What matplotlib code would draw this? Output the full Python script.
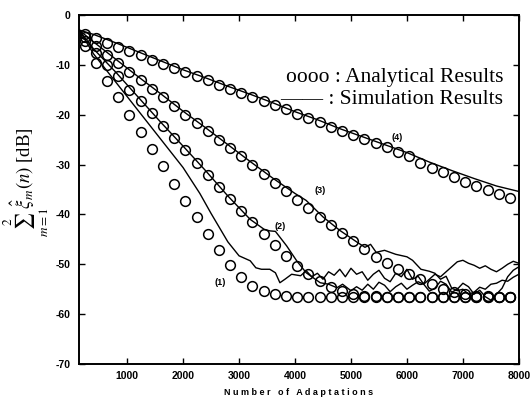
import numpy as np
import matplotlib
matplotlib.use("Agg")
import matplotlib.pyplot as plt

plt.rcParams['mathtext.fontset'] = 'stix'
plt.rcParams['font.family'] = ['Liberation Sans', 'DejaVu Sans']
plt.rcParams['axes.unicode_minus'] = False

# analytical results (circles), sampled every 200 adaptations
x_ana = np.arange(240, 8000, 200)
ana1 = [-6.3, -9.7, -13.3, -16.5, -20.1, -23.5, -26.9, -30.3, -33.9, -37.3,
        -40.5, -44.0, -47.1, -50.2, -52.6, -54.4, -55.3, -56.0, -56.3, -56.5,
        -56.5, -56.5, -56.5, -56.5, -56.5, -56.5, -56.5, -56.5, -56.5, -56.5,
        -56.5, -56.5, -56.5, -56.5, -56.5, -56.5, -56.5, -56.5, -56.5]
ana2 = [-5.3, -7.7, -10.0, -12.3, -15.0, -17.2, -19.7, -22.2, -24.7, -27.1,
        -29.6, -32.0, -34.5, -36.9, -39.3, -41.5, -44.0, -46.2, -48.3, -50.3,
        -52.0, -53.3, -54.5, -55.3, -56.0, -56.3, -56.4, -56.5, -56.5, -56.5,
        -56.5, -56.5, -56.5, -56.5, -56.5, -56.5, -56.5, -56.5, -56.5]
ana3 = [-4.5, -6.2, -8.0, -9.7, -11.5, -13.1, -14.9, -16.5, -18.3, -20.0,
        -21.7, -23.3, -25.0, -26.7, -28.3, -30.1, -31.8, -33.6, -35.4, -37.2,
        -38.7, -40.5, -42.1, -43.7, -45.3, -47.0, -48.5, -49.8, -51.0, -52.0,
        -53.0, -54.0, -54.9, -55.5, -56.0, -56.3, -56.4, -56.5, -56.5]
ana4 = [-3.8, -4.6, -5.6, -6.5, -7.3, -8.1, -9.0, -9.8, -10.7, -11.5,
        -12.3, -13.1, -14.0, -14.8, -15.7, -16.5, -17.3, -18.1, -18.9, -19.8,
        -20.7, -21.5, -22.4, -23.2, -24.1, -24.9, -25.7, -26.5, -27.4, -28.3,
        -29.6, -30.6, -31.5, -32.5, -33.4, -34.3, -35.1, -36.0, -36.8]

# simulation results (lines)
sim1_x = [140, 400, 800, 1200, 1600, 2000, 2300, 2500, 2700, 2800, 3000, 3200,
          3300, 3400, 3550, 3650, 3730, 3820, 3940, 4100, 4200, 4300, 4400, 4500,
          4600, 4700, 4800, 4900, 5000, 5100, 5200, 5300, 5400, 5500, 5600, 5700,
          5800, 5900, 6000, 6100, 6200, 6300, 6400, 6500, 6600, 6700, 6800, 6900,
          7000, 7100, 7200, 7300, 7400, 7500, 7600, 7700, 7800, 7900, 8000]
sim1_y = [-3.0, -7.8, -13.5, -19.2, -24.9, -30.6, -35.8, -39.8, -43.6, -45.5,
          -48.3, -49.3, -50.7, -51.0, -51.0, -51.7, -53.7, -53.0, -52.0, -52.3,
          -51.3, -52.5, -51.8, -53.0, -51.5, -52.2, -51.0, -52.5, -50.8, -52.0,
          -51.5, -53.2, -52.0, -51.2, -52.8, -53.5, -51.8, -52.5, -51.0, -53.0,
          -52.4, -54.0, -53.0, -52.0, -52.5, -51.5, -50.5, -49.5, -49.2, -49.8,
          -50.2, -50.8, -50.3, -51.0, -51.5, -50.8, -50.0, -49.4, -49.8]
sim2_x = [140, 400, 800, 1200, 1600, 2000, 2400, 2800, 3200, 3450, 3550, 3650,
          3850, 4030, 4200, 4450, 4600, 4750, 4850, 5000, 5100, 5200, 5300, 5400,
          5500, 5600, 5700, 5800, 5900, 6000, 6100, 6200, 6300, 6400, 6500, 6600,
          6700, 6800, 6900, 7000, 7100, 7200, 7300, 7400, 7500, 7600, 7700, 7800,
          7900, 8000]
sim2_y = [-3.0, -6.8, -11.5, -16.5, -21.5, -26.3, -31.2, -36.3, -41.0, -43.0,
          -43.3, -43.4, -46.3, -49.3, -51.7, -53.7, -54.0, -54.7, -54.0, -55.3,
          -54.5, -55.2, -54.0, -55.0, -53.6, -54.2, -55.5, -54.5, -53.8, -55.0,
          -54.2, -53.5, -54.0, -55.4, -54.8, -53.4, -54.0, -55.6, -55.0, -53.8,
          -54.5, -56.0, -55.2, -56.5, -57.2, -56.0, -54.8, -52.5, -51.2, -50.5]
sim3_x = [140, 400, 800, 1200, 1600, 2000, 2400, 2800, 3200, 3600, 4000, 4200,
          4500, 4800, 5100, 5250, 5350, 5450, 5600, 5800, 6000, 6100, 6250, 6400,
          6500, 6600, 6700, 6800, 6900, 7000, 7100, 7200, 7300, 7400, 7500, 7600,
          7700, 7800, 7900, 8000]
sim3_y = [-3.0, -5.4, -8.9, -12.4, -15.8, -19.3, -22.6, -26.0, -29.4, -32.7,
          -35.8, -37.2, -40.5, -43.2, -45.5, -46.6, -46.0, -47.6, -47.2, -48.0,
          -48.5, -49.2, -51.0, -51.4, -51.8, -53.0, -52.4, -54.8, -55.3, -55.0,
          -56.0, -55.6, -54.6, -55.0, -54.0, -53.8, -53.2, -53.4, -52.6, -52.0]
sim4_x = [140, 400, 800, 1200, 1600, 2000, 2400, 2800, 3200, 3600, 4000, 4400,
          4800, 5200, 5600, 6000, 6400, 6800, 7200, 7600, 8000]
sim4_y = [-3.0, -3.9, -5.6, -7.4, -9.2, -11.0, -12.6, -14.3, -15.9, -17.6,
          -19.4, -21.0, -22.8, -24.4, -26.0, -27.6, -29.5, -31.2, -32.8, -34.3,
          -35.4]

# curve labels
lab_text = ['(1)', '(2)', '(3)', '(4)']
lab_x = [2660, 3740, 4450, 5820]
lab_y = [-53.7, -42.5, -35.3, -24.5]

fig = plt.figure(figsize=(5.30, 3.98), dpi=100)
ax = fig.add_axes([0.149, 0.0854, 0.830, 0.877])

for ys in [ana1, ana2, ana3, ana4]:
    ax.plot(x_ana, ys, 'o', ms=7, mfc='none', mec='black', mew=1.1)
for xs, ys in [(sim1_x, sim1_y), (sim2_x, sim2_y), (sim3_x, sim3_y), (sim4_x, sim4_y)]:
    ax.plot(xs, ys, '-', color='black', lw=1.0)

for t, lx, ly in zip(lab_text, lab_x, lab_y):
    ax.text(lx, ly, t, fontsize=6.5, fontweight='bold', ha='center', va='center')

ax.text(0.964, 0.821, 'oooo : Analytical Results', transform=ax.transAxes,
        fontsize=15.5, family='Liberation Serif', ha='right', va='center')
ax.text(0.964, 0.758, '—— : Simulation Results', transform=ax.transAxes,
        fontsize=15.5, family='Liberation Serif', ha='right', va='center')

ax.set_xlim(140, 8000)
ax.set_ylim(-70, 0)
ax.set_xticks([1000, 2000, 3000, 4000, 5000, 6000, 7000, 8000])
ax.set_yticks([0, -10, -20, -30, -40, -50, -60, -70])
ax.tick_params(direction='in', top=True, right=True, length=4, width=1,
               labelsize=7.5)
ax.tick_params(axis='y', pad=6)
ax.tick_params(axis='x', pad=5)
for lbl in ax.get_xticklabels() + ax.get_yticklabels():
    lbl.set_fontweight('bold')
for s in ax.spines.values():
    s.set_linewidth(1.4)

ax.set_xlabel('N u m b e r   o f   A d a p t a t i o n s', fontsize=6.5,
              fontweight='bold', labelpad=5)
ax.set_ylabel(r'$\sum_{m=1}^{2}\hat{\xi}_{m}(n)$ [dB]', fontsize=13.5,
              family='Liberation Serif')
ax.yaxis.set_label_coords(-0.064, 0.52)

fig.savefig('out.png', dpi=100)
